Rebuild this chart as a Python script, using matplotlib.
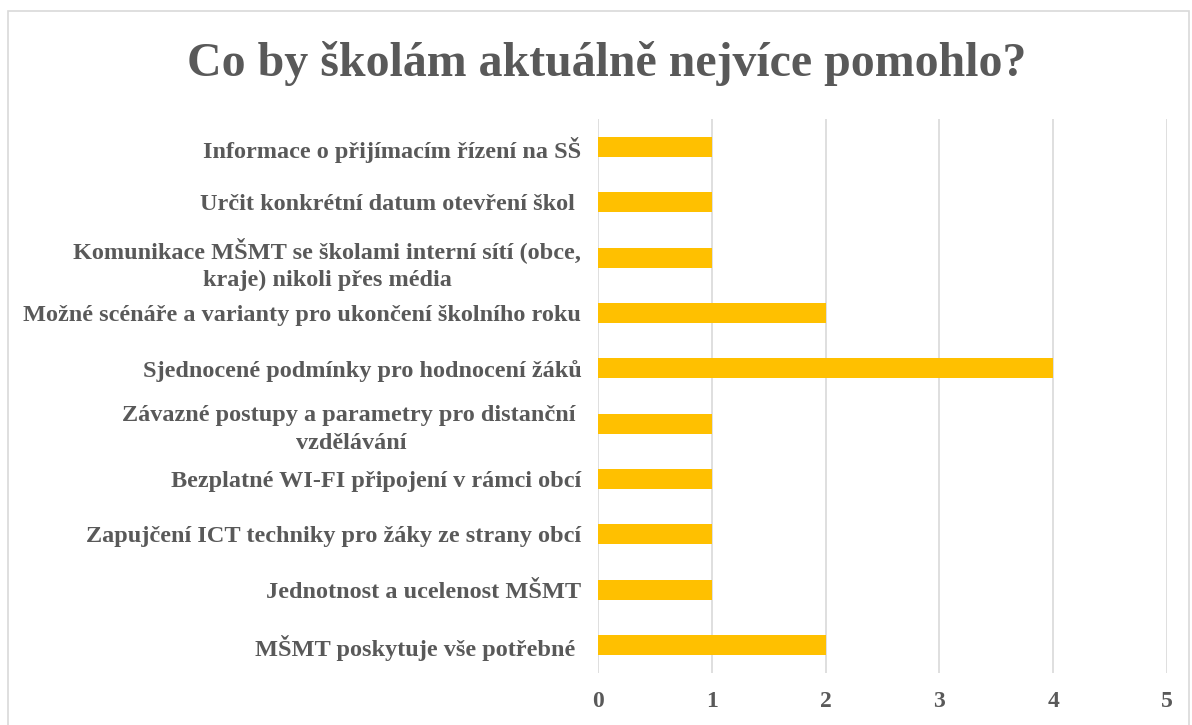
import matplotlib.pyplot as plt
from matplotlib.patches import Rectangle

categories = [
    "Informace o přijímacím řízení na SŠ",
    "Určit konkrétní datum otevření škol ",
    "Komunikace MŠMT se školami interní sítí (obce,\nkraje) nikoli přes média",
    "Možné scénáře a varianty pro ukončení školního roku",
    "Sjednocené podmínky pro hodnocení žáků",
    "Závazné postupy a parametry pro distanční \nvzdělávání",
    "Bezplatné WI-FI připojení v rámci obcí",
    "Zapujčení ICT techniky pro žáky ze strany obcí",
    "Jednotnost a ucelenost MŠMT",
    "MŠMT poskytuje vše potřebné ",
]
values = [1, 1, 1, 2, 4, 1, 1, 1, 1, 2]
xticks = [0, 1, 2, 3, 4, 5]

text_color = "#595959"
plt.rcParams['font.family'] = ['Liberation Serif', 'DejaVu Serif']

fig = plt.figure(figsize=(11.92, 7.25), dpi=100)
ax = fig.add_axes([0.5017, 0.0721, 0.4773, 0.7633])

ypos = list(range(len(categories)))
ax.barh(ypos, values, height=0.36, color="#FFC000", zorder=3)
ax.set_ylim(len(categories) - 0.5, -0.5)
ax.set_xlim(0, 5)

ax.set_yticks(ypos)
ax.set_yticklabels(categories, fontsize=17.5, fontweight='bold', color=text_color,
                   multialignment='center', linespacing=1.45)
ax.set_xticks(xticks)
ax.set_xticklabels([str(t) for t in xticks], fontsize=17, fontweight='bold', color=text_color)
ax.tick_params(axis='y', length=0, pad=12)
ax.tick_params(axis='x', length=0, pad=13)

ax.grid(axis='x', color="#D9D9D9", linewidth=1.2, zorder=0)
for s in ax.spines.values():
    s.set_visible(False)

fig.text(0.509, 0.912, "Co by školám aktuálně nejvíce pomohlo?", ha='center', va='center',
         fontsize=34.5, fontweight='bold', color=text_color)

# outer chart frame
fig.patches.append(Rectangle((8 / 1192, -0.05), 1181 / 1192, 1.05 - 11 / 725,
                             transform=fig.transFigure, fill=False,
                             edgecolor="#D9D9D9", linewidth=1.2))

fig.savefig("out.png", dpi=100)
